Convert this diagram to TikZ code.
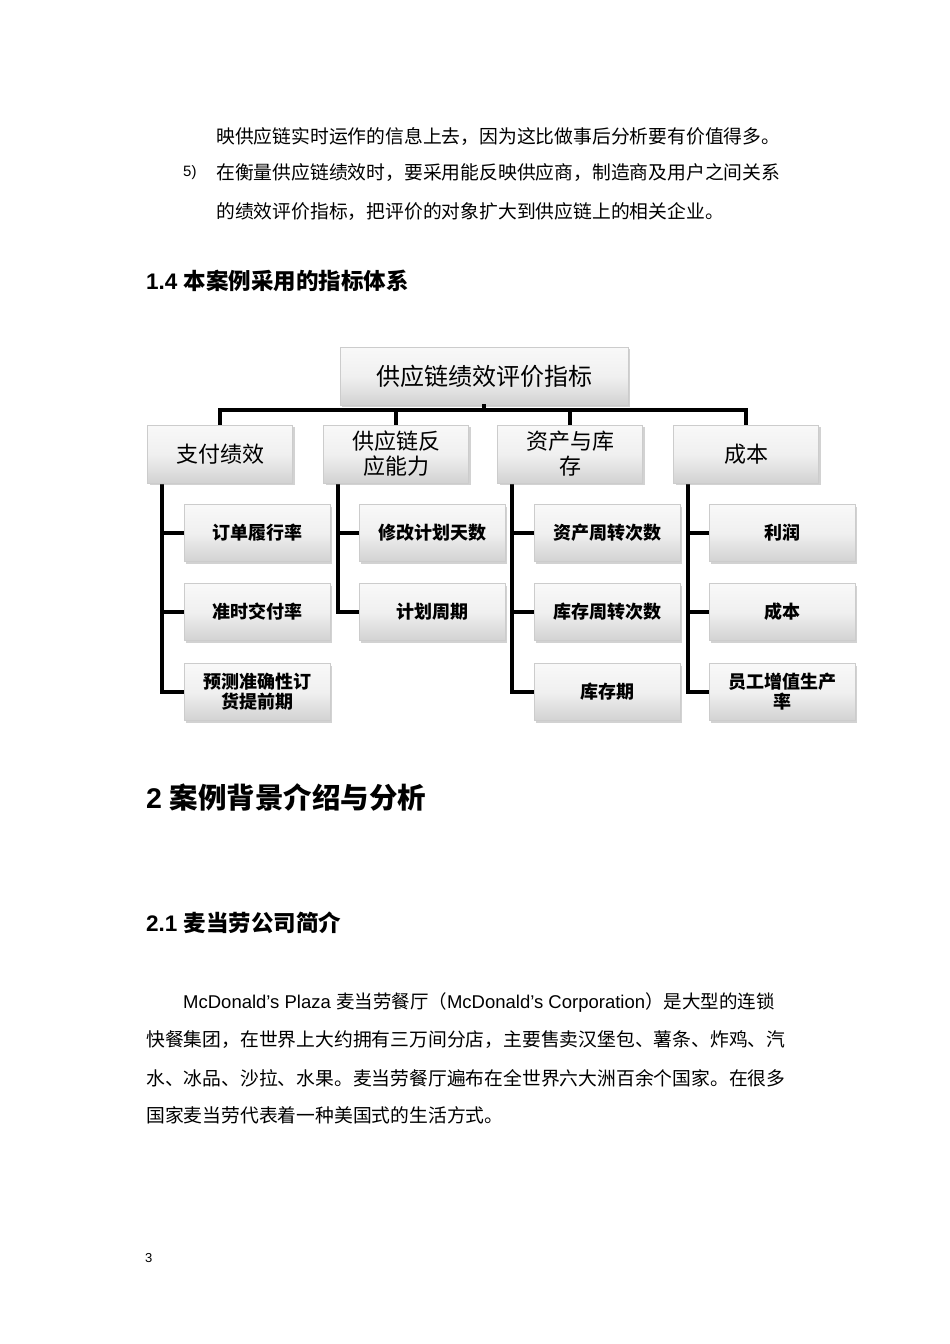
\documentclass[tikz,border=0pt]{standalone}
\usepackage{fontspec}
\setmainfont{Liberation Sans}
\newfontfamily\cjk{Noto Sans CJK SC}
\usetikzlibrary{shadows}
\begin{document}
\begin{tikzpicture}[x=1pt,y=-1pt,
  box/.style={draw=gray!40,line width=0.6pt,top color=gray!5,bottom color=gray!35,
    middle color=gray!12,drop shadow={opacity=0.35,shadow xshift=2pt,shadow yshift=-2pt},
    inner sep=2pt,align=center,font=\cjk},
  conn/.style={line width=3.5pt,line cap=rect},
  txt/.style={anchor=west,inner sep=0pt,font=\cjk\fontsize{18.8}{22}\selectfont},
  hd/.style={anchor=west,inner sep=0pt}]
\fill[white] (0,0) rectangle (950,1344);
\useasboundingbox (0,0) rectangle (950,1344);
% text
\node[txt] (t1) at (216,137) {映供应链实时运作的信息上去，因为这比做事后分析要有价值得多。};
\node[hd,font=\fontsize{15}{17}\selectfont] (n5) at (183,173) {5)};
\node[txt] (t2) at (216,173) {在衡量供应链绩效时，要采用能反映供应商，制造商及用户之间关系};
\node[txt] (t3) at (216,212) {的绩效评价指标，把评价的对象扩大到供应链上的相关企业。};
\node[hd,font=\bfseries\fontsize{22.5}{26}\selectfont] (h1) at (146,281) {1.4 {\cjk 本案例采用的指标体系}};
\node[hd,font=\bfseries\fontsize{28.5}{33}\selectfont] (h2) at (146,797) {2 {\cjk 案例背景介绍与分析}};
\node[hd,font=\bfseries\fontsize{22.5}{26}\selectfont] (h3) at (146,923) {2.1 {\cjk 麦当劳公司简介}};
\node[hd,font=\fontsize{18.5}{22}\selectfont] (p1) at (183,1002) {McDonald's Plaza {\cjk 麦当劳餐厅（}McDonald's Corporation{\cjk ）是大型的连锁}};
\node[txt] (p2) at (146,1040) {快餐集团，在世界上大约拥有三万间分店，主要售卖汉堡包、薯条、炸鸡、汽};
\node[txt] (p3) at (146,1078) {水、冰品、沙拉、水果。麦当劳餐厅遍布在全世界六大洲百余个国家。在很多};
\node[txt] (p4) at (146,1115) {国家麦当劳代表着一种美国式的生活方式。};
\node[hd,font=\fontsize{13}{15}\selectfont] (pg) at (145,1258) {3};
% diagram connectors
\draw[conn] (220,425) -- (220,410) -- (746,410) -- (746,425);
\draw[conn] (396,410) -- (396,425);
\draw[conn] (570,410) -- (570,425);
\draw[conn] (162,483) -- (162,692) -- (184,692);
\draw[conn] (162,533) -- (184,533); \draw[conn] (162,612) -- (184,612);
\draw[conn] (338,483) -- (338,612) -- (359,612);
\draw[conn] (338,533) -- (359,533);
\draw[conn] (512,483) -- (512,692) -- (534,692);
\draw[conn] (512,533) -- (534,533); \draw[conn] (512,612) -- (534,612);
\draw[conn] (688,483) -- (688,692) -- (709,692);
\draw[conn] (688,533) -- (709,533); \draw[conn] (688,612) -- (709,612);
% boxes
\node[box,minimum width=288,minimum height=58,font=\cjk\fontsize{24}{28}\selectfont] (top) at (484,376) {供应链绩效评价指标};
\draw[conn] (top.south) -- (484,410);
\foreach \x/\t/\n in {220/支付绩效/a,396/供应链反\\应能力/b,570/资产与库\\存/c,746/成本/d}
  \node[box,minimum width=145,minimum height=58,font=\cjk\fontsize{22}{25}\selectfont] (\n) at (\x,454) {\t};
\foreach \x/\y/\t/\n in {257/533/订单履行率/a1,257/612/准时交付率/a2,257/692/预测准确性订\\货提前期/a3,
  432/533/修改计划天数/b1,432/612/计划周期/b2,
  607/533/资产周转次数/c1,607/612/库存周转次数/c2,607/692/库存期/c3,
  782/533/利润/d1,782/612/成本/d2,782/692/员工增值生产\\率/d3}
  \node[box,minimum width=146,minimum height=57,font=\cjk\bfseries\fontsize{18}{20}\selectfont] (\n) at (\x,\y) {\t};
\end{tikzpicture}
\end{document}
